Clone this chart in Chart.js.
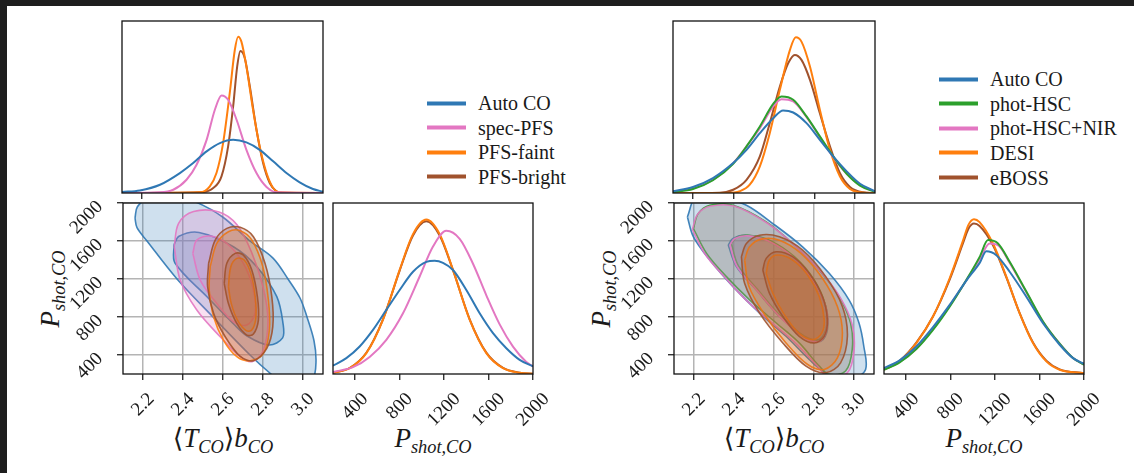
<!DOCTYPE html>
<html lang="en">
<head>
<meta charset="UTF-8" />
<title>Corner plots</title>
<script src="https://cdn.jsdelivr.net/npm/chart.js"></script>
<style>
  body { margin: 0; background: #1e1e1e; width: 1134px; height: 473px; overflow: hidden; position: relative; }
  .sheet { position: absolute; left: 7px; top: 6px; width: 1127px; height: 467px; background: #fff; }
  .panel { position: absolute; }
  .ttl { position: absolute; transform: translate(-50%, -50%); font: 27px "Liberation Serif", "DejaVu Serif", serif; color: #1a1a1a; white-space: nowrap; }
  .ttl.v { transform: translate(-50%, -50%) rotate(-90deg); }
  .ttl sub { font-size: 0.68em; vertical-align: baseline; position: relative; top: 0.32em; }
  .leg { position: absolute; display: flex; align-items: center; transform: translateY(-50%); font: 20px "Liberation Serif", serif; color: #1a1a1a; white-space: nowrap; }
  .sw { display: inline-block; width: 39px; height: 4px; margin-right: 12px; }
</style>
</head>
<body>
<div class="sheet"></div>

<div class="ttl" style="left:223px;top:438px">⟨<i>T</i><sub><i>CO</i></sub>⟩<i>b</i><sub><i>CO</i></sub></div>
<div class="ttl" style="left:433px;top:438px"><i>P</i><sub><i>shot,CO</i></sub></div>
<div class="ttl v" style="left:50px;top:289px"><i>P</i><sub><i>shot,CO</i></sub></div>
<div class="ttl" style="left:774px;top:438px">⟨<i>T</i><sub><i>CO</i></sub>⟩<i>b</i><sub><i>CO</i></sub></div>
<div class="ttl" style="left:984px;top:438px"><i>P</i><sub><i>shot,CO</i></sub></div>
<div class="ttl v" style="left:601px;top:289px"><i>P</i><sub><i>shot,CO</i></sub></div>

<script>
// axes
const tRange = [2.1, 3.1];
const pRange = [200, 2000];
const tTicks = [2.2, 2.4, 2.6, 2.8, 3.0];
const pTicks = [400, 800, 1200, 1600, 2000];

// series
const leftNames = ["Auto CO", "spec-PFS", "PFS-faint", "PFS-bright"];
const leftColors = ["#2f78b4", "#e377c2", "#ff7f0e", "#a0522d"];
const rightNames = ["Auto CO", "phot-HSC", "phot-HSC+NIR", "DESI", "eBOSS"];
const rightColors = ["#2f78b4", "#2ca02c", "#e377c2", "#ff7f0e", "#a0522d"];

// left figure, marginal of <T>b  (x, relative height)
const ltAuto = [[2.100,0.006],[2.189,0.015],[2.289,0.048],[2.388,0.116],[2.454,0.174],[2.521,0.242],[2.587,0.290],[2.653,0.309],[2.719,0.294],[2.785,0.251],[2.852,0.184],[2.918,0.116],[2.984,0.062],[3.050,0.023],[3.100,0.008]];
const ltSpec = [[2.100,0],[2.289,0.004],[2.355,0.019],[2.421,0.077],[2.471,0.164],[2.521,0.309],[2.562,0.484],[2.595,0.567],[2.628,0.542],[2.670,0.426],[2.719,0.251],[2.769,0.116],[2.819,0.035],[2.868,0.004],[3.100,0]];
const ltFaint = [[2.100,0],[2.487,0.004],[2.537,0.039],[2.570,0.116],[2.603,0.290],[2.636,0.580],[2.661,0.830],[2.678,0.909],[2.694,0.880],[2.719,0.735],[2.752,0.484],[2.785,0.271],[2.819,0.116],[2.852,0.029],[2.885,0.004],[3.100,0]];
const ltBright = [[2.100,0],[2.487,0.004],[2.554,0.029],[2.595,0.097],[2.628,0.271],[2.653,0.503],[2.673,0.735],[2.689,0.826],[2.711,0.784],[2.736,0.619],[2.769,0.368],[2.802,0.174],[2.835,0.058],[2.868,0.010],[2.901,0],[3.100,0]];

// left figure, marginal of P_shot
const lrAuto = [[200,0.049],[320,0.093],[440,0.161],[560,0.258],[680,0.375],[800,0.491],[920,0.598],[1040,0.656],[1115,0.662],[1190,0.650],[1280,0.608],[1400,0.491],[1520,0.355],[1640,0.239],[1760,0.151],[1880,0.083],[2000,0.045]];
const lrSpec = [[200,0.012],[380,0.040],[530,0.100],[680,0.200],[830,0.355],[980,0.570],[1100,0.745],[1220,0.837],[1340,0.790],[1460,0.645],[1580,0.460],[1700,0.290],[1820,0.160],[1940,0.070],[2000,0.045]];
const lrFaint = [[200,0.007],[350,0.034],[500,0.122],[650,0.318],[800,0.609],[920,0.818],[1040,0.903],[1160,0.818],[1280,0.609],[1430,0.318],[1580,0.122],[1730,0.034],[1880,0.007],[2000,0.002]];
const lrBright = [[200,0.007],[350,0.035],[500,0.124],[650,0.320],[800,0.605],[920,0.810],[1040,0.893],[1160,0.810],[1280,0.607],[1430,0.320],[1580,0.125],[1730,0.036],[1880,0.008],[2000,0.002]];

// left figure, contours (<T>b, P_shot): outer = 2 sigma, inner = 1 sigma
const lAutoOuter = [[2.160,1842],[2.172,1960],[2.225,2045],[2.350,2070],[2.470,2005],[2.600,1850],[2.735,1600],[2.850,1420],[2.925,1200],[2.985,1000],[3.020,800],[3.055,550],[3.065,330],[3.050,150],[2.985,60],[2.900,110],[2.840,200],[2.735,400],[2.550,800],[2.370,1200],[2.220,1600],[2.170,1740]];
const lAutoInner = [[2.355,1560],[2.380,1650],[2.480,1690],[2.652,1540],[2.769,1330],[2.869,1014],[2.900,733],[2.898,580],[2.830,505],[2.720,600],[2.650,733],[2.520,1013],[2.360,1368]];
const lSpecOuter = [[2.356,1540],[2.378,1786],[2.453,1910],[2.580,1905],[2.670,1770],[2.745,1470],[2.800,1119],[2.825,768],[2.802,450],[2.745,330],[2.686,382],[2.586,592],[2.469,873],[2.386,1189]];
const lSpecInner = [[2.449,1470],[2.469,1610],[2.536,1652],[2.619,1575],[2.702,1365],[2.752,1084],[2.760,838],[2.719,715],[2.652,750],[2.569,943],[2.486,1189]];
const lFaintOuter = [[2.536,1330],[2.569,1575],[2.627,1698],[2.686,1709],[2.744,1610],[2.799,1330],[2.827,979],[2.832,663],[2.802,417],[2.736,340],[2.669,382],[2.602,557],[2.553,803],[2.531,1084]];
const lFaintInner = [[2.627,1119],[2.639,1330],[2.669,1417],[2.706,1400],[2.739,1259],[2.761,1014],[2.764,786],[2.744,663],[2.716,656],[2.672,768],[2.641,943]];
const lBrightOuter = [[2.528,1365],[2.561,1610],[2.619,1733],[2.686,1744],[2.752,1645],[2.810,1365],[2.844,1014],[2.849,698],[2.819,470],[2.752,340],[2.686,385],[2.611,592],[2.553,838],[2.523,1119]];
const lBrightInner = [[2.606,1154],[2.619,1365],[2.661,1470],[2.702,1452],[2.744,1295],[2.772,1014],[2.777,768],[2.752,621],[2.719,610],[2.669,733],[2.627,943]];

// right figure, marginal of <T>b
const rtAuto = [[2.100,0.010],[2.199,0.035],[2.298,0.087],[2.398,0.174],[2.464,0.251],[2.530,0.348],[2.596,0.435],[2.645,0.480],[2.695,0.468],[2.761,0.406],[2.827,0.309],[2.893,0.213],[2.960,0.126],[3.026,0.054],[3.100,0.010]];
const rtHsc = [[2.100,0.006],[2.199,0.023],[2.298,0.074],[2.398,0.170],[2.464,0.271],[2.530,0.387],[2.596,0.518],[2.637,0.561],[2.695,0.542],[2.761,0.445],[2.827,0.329],[2.893,0.213],[2.960,0.112],[3.026,0.043],[3.100,0.006]];
const rtNir = [[2.100,0.008],[2.199,0.027],[2.298,0.077],[2.398,0.174],[2.464,0.271],[2.530,0.377],[2.596,0.503],[2.637,0.545],[2.695,0.532],[2.761,0.441],[2.827,0.325],[2.893,0.209],[2.960,0.112],[3.026,0.046],[3.100,0.008]];
const rtDesi = [[2.100,0],[2.364,0],[2.431,0.010],[2.480,0.048],[2.530,0.155],[2.579,0.348],[2.629,0.600],[2.679,0.832],[2.708,0.905],[2.736,0.880],[2.778,0.735],[2.827,0.484],[2.877,0.251],[2.926,0.097],[2.976,0.023],[3.026,0.004],[3.100,0]];
const rtEboss = [[2.100,0],[2.331,0.002],[2.398,0.019],[2.464,0.077],[2.530,0.213],[2.579,0.406],[2.629,0.619],[2.670,0.754],[2.703,0.803],[2.736,0.774],[2.778,0.658],[2.827,0.464],[2.877,0.271],[2.926,0.116],[2.976,0.035],[3.042,0.004],[3.100,0]];

// right figure, marginal of P_shot
const rrAuto = [[200,0.035],[341,0.080],[491,0.161],[641,0.274],[791,0.404],[941,0.546],[1061,0.650],[1121,0.718],[1211,0.695],[1331,0.598],[1481,0.452],[1631,0.297],[1781,0.171],[1901,0.093],[2000,0.060]];
const rrHsc = [[200,0.025],[341,0.068],[491,0.146],[641,0.258],[791,0.394],[941,0.550],[1061,0.685],[1136,0.783],[1226,0.763],[1331,0.656],[1481,0.482],[1631,0.307],[1781,0.177],[1901,0.093],[2000,0.054]];
const rrNir = [[200,0.027],[341,0.070],[491,0.148],[641,0.262],[791,0.398],[941,0.548],[1061,0.672],[1151,0.763],[1235,0.748],[1331,0.650],[1481,0.478],[1631,0.305],[1781,0.177],[1901,0.093],[2000,0.054]];
const rrDesi = [[200,0.025],[341,0.074],[491,0.181],[641,0.336],[791,0.560],[911,0.780],[960,0.872],[1010,0.905],[1060,0.888],[1181,0.763],[1301,0.569],[1421,0.355],[1541,0.181],[1661,0.074],[1781,0.025],[2000,0.004]];
const rrEboss = [[200,0.027],[341,0.077],[491,0.183],[641,0.336],[791,0.552],[911,0.765],[960,0.850],[1010,0.880],[1060,0.866],[1181,0.752],[1301,0.565],[1421,0.356],[1541,0.184],[1661,0.078],[1781,0.027],[2000,0.005]];

// right figure, contours
const rAutoOuter = [[2.167,1853],[2.213,2080],[2.329,2063],[2.462,1976],[2.594,1784],[2.743,1539],[2.876,1260],[2.975,981],[3.025,737],[3.049,492],[3.058,248],[2.991,126],[2.958,108],[2.859,203],[2.776,353],[2.660,597],[2.528,841],[2.395,1120],[2.279,1400],[2.197,1644]];
const rAutoInner = [[2.371,1557],[2.395,1627],[2.462,1661],[2.561,1609],[2.693,1435],[2.793,1190],[2.859,911],[2.867,667],[2.834,545],[2.760,580],[2.627,806],[2.511,1086],[2.412,1330]];
const rHscOuter = [[2.197,1731],[2.221,1888],[2.279,1976],[2.395,1976],[2.561,1801],[2.693,1574],[2.826,1295],[2.925,1016],[2.983,737],[2.991,457],[2.958,231],[2.876,196],[2.826,283],[2.726,527],[2.611,737],[2.478,981],[2.362,1225],[2.263,1470]];
const rHscInner = [[2.387,1574],[2.412,1637],[2.478,1661],[2.577,1609],[2.702,1435],[2.801,1190],[2.859,911],[2.862,684],[2.826,562],[2.752,597],[2.627,824],[2.519,1086],[2.420,1347]];
const rNirOuter = [[2.192,1721],[2.218,1881],[2.279,1965],[2.404,1965],[2.569,1784],[2.702,1557],[2.834,1278],[2.933,998],[2.991,719],[3.000,440],[2.967,213],[2.867,178],[2.817,283],[2.710,520],[2.594,730],[2.462,974],[2.354,1218],[2.255,1463]];
const rNirInner = [[2.379,1557],[2.404,1627],[2.470,1654],[2.569,1602],[2.697,1428],[2.796,1183],[2.859,904],[2.864,674],[2.829,545],[2.756,576],[2.627,806],[2.515,1079],[2.415,1330]];
const rDesiOuter = [[2.453,1400],[2.478,1539],[2.536,1620],[2.627,1609],[2.735,1470],[2.842,1208],[2.917,911],[2.942,632],[2.917,370],[2.851,248],[2.768,300],[2.660,527],[2.553,824],[2.475,1120]];
const rDesiInner = [[2.561,1260],[2.577,1400],[2.619,1452],[2.693,1400],[2.768,1243],[2.826,1016],[2.851,772],[2.839,632],[2.796,562],[2.726,625],[2.652,824],[2.594,1051]];
const rEbossOuter = [[2.437,1435],[2.462,1574],[2.528,1661],[2.627,1644],[2.743,1504],[2.859,1225],[2.942,911],[2.967,597],[2.933,318],[2.859,213],[2.760,283],[2.644,527],[2.528,841],[2.453,1155]];
const rEbossInner = [[2.544,1295],[2.561,1417],[2.611,1487],[2.693,1435],[2.776,1260],[2.842,1016],[2.867,772],[2.851,597],[2.801,527],[2.726,597],[2.644,806],[2.577,1051]];

function rgba(hex, a) {
  const n = parseInt(hex.slice(1), 16);
  return `rgba(${n >> 16},${(n >> 8) & 255},${n & 255},${a})`;
}

function curve(pts, color) {
  return {
    data: pts.map(([x, y]) => ({ x, y })),
    borderColor: color, borderWidth: 2, pointRadius: 0, fill: false,
    cubicInterpolationMode: "monotone",
  };
}

// lower order is drawn on top
function contours(pairs, colors) {
  const out = [];
  pairs.forEach(([outer, inner], k) => {
    [[outer, 100 - 2 * k], [inner, 99 - 2 * k]].forEach(([pts, order]) => {
      out.push({
        data: pts.concat([pts[0]]).map(([x, y]) => ({ x, y })),
        borderColor: rgba(colors[k], 0.9), borderWidth: 1.6,
        backgroundColor: rgba(colors[k], 0.23),
        fill: "shape", tension: 0.34, pointRadius: 0, order, clip: 0,
      });
    });
  });
  return out;
}

function axis(range, ticks, size, horizontal, grid) {
  return {
    type: "linear", min: range[0], max: range[1],
    afterBuildTicks: (s) => { s.ticks = ticks.map((v) => ({ value: v })); },
    afterFit: (s) => { if (horizontal) s.height = size; else s.width = size; },
    ticks: { display: false },
    border: { display: false },
    grid: {
      drawOnChartArea: grid, color: "#b4b4b4", lineWidth: 1.5,
      tickColor: "#111", tickLength: 6, tickWidth: 1.2,
    },
  };
}

const tickFont = "normal 400 19px 'Liberation Serif', 'DejaVu Serif', serif";

// frame plus 45 degree tick labels
function decor(xLabels, xDigits, yLabels) {
  return {
    id: "decor",
    afterDraw(chart) {
      const { ctx, chartArea: a } = chart;
      ctx.save();
      ctx.strokeStyle = "#111";
      ctx.lineWidth = 1.3;
      ctx.strokeRect(a.left, a.top, a.right - a.left, a.bottom - a.top);
      ctx.fillStyle = "#1a1a1a";
      ctx.font = tickFont;
      ctx.textBaseline = "middle";
      if (xLabels) {
        xLabels.forEach((v) => {
          const txt = v.toFixed(xDigits);
          const L = ctx.measureText(txt).width;
          const cx = chart.scales.x.getPixelForValue(v);
          const cy = a.bottom + 18 + ((L + 12) * 0.7071) / 2;
          ctx.save();
          ctx.translate(cx, cy);
          ctx.rotate(-Math.PI / 4);
          ctx.font = tickFont;
          ctx.textAlign = "center";
          ctx.fillText(txt, 0, 0);
          ctx.restore();
        });
      }
      if (yLabels) {
        yLabels.forEach((v) => {
          const py = chart.scales.y.getPixelForValue(v);
          ctx.save();
          ctx.translate(a.left - 23, py + 1);
          ctx.rotate(-Math.PI / 4);
          ctx.font = tickFont;
          ctx.textAlign = "right";
          ctx.fillText(String(v), 0, 0);
          ctx.restore();
        });
      }
      ctx.restore();
    },
  };
}

function panel(area, pads, datasets, xs, ys, plugin) {
  const div = document.createElement("div");
  div.className = "panel";
  div.style.left = area[0] - pads.l + "px";
  div.style.top = area[1] - pads.t + "px";
  div.style.width = area[2] - area[0] + pads.l + pads.r + "px";
  div.style.height = area[3] - area[1] + pads.t + pads.b + "px";
  const cv = document.createElement("canvas");
  div.appendChild(cv);
  document.body.appendChild(div);
  new Chart(cv, {
    type: "line",
    data: { datasets },
    options: {
      responsive: true, maintainAspectRatio: false, animation: false,
      layout: { padding: { top: pads.t, right: pads.r, bottom: 0, left: ys.display === false ? pads.l : 0 } },
      plugins: { legend: { display: false }, tooltip: { enabled: false } },
      elements: { line: { capBezierPoints: false } },
      scales: { x: xs, y: ys },
    },
    plugins: [plugin],
  });
}

const margY = { display: false, min: 0, max: 1 };

// left figure
panel([122, 21, 323, 193], { l: 10, t: 10, r: 10, b: 10 },
  [ltAuto, ltSpec, ltFaint, ltBright].map((p, i) => curve(p, leftColors[i])),
  axis(tRange, tTicks, 10, true, false), margY, decor(null));
panel([123, 203, 323, 374], { l: 75, t: 5, r: 5, b: 62 },
  contours([[lAutoOuter, lAutoInner], [lSpecOuter, lSpecInner], [lFaintOuter, lFaintInner], [lBrightOuter, lBrightInner]], leftColors),
  axis(tRange, tTicks, 62, true, true), axis(pRange, pTicks, 75, false, true), decor(tTicks, 1, pTicks));
panel([333, 203, 533, 374], { l: 5, t: 5, r: 26, b: 62 },
  [lrAuto, lrSpec, lrFaint, lrBright].map((p, i) => curve(p, leftColors[i])),
  axis(pRange, pTicks, 62, true, false), margY, decor(pTicks, 0, null));

// right figure
panel([673, 21, 875, 193], { l: 10, t: 10, r: 10, b: 10 },
  [rtAuto, rtHsc, rtNir, rtDesi, rtEboss].map((p, i) => curve(p, rightColors[i])),
  axis(tRange, tTicks, 10, true, false), margY, decor(null));
panel([674, 203, 874, 374], { l: 75, t: 5, r: 5, b: 62 },
  contours([[rAutoOuter, rAutoInner], [rHscOuter, rHscInner], [rNirOuter, rNirInner], [rDesiOuter, rDesiInner], [rEbossOuter, rEbossInner]], rightColors),
  axis(tRange, tTicks, 62, true, true), axis(pRange, pTicks, 75, false, true), decor(tTicks, 1, pTicks));
panel([884, 203, 1084, 374], { l: 5, t: 5, r: 26, b: 62 },
  [rrAuto, rrHsc, rrNir, rrDesi, rrEboss].map((p, i) => curve(p, rightColors[i])),
  axis(pRange, pTicks, 62, true, false), margY, decor(pTicks, 0, null));

// legends
function legend(names, colors, left, firstY, step) {
  names.forEach((n, i) => {
    const row = document.createElement("div");
    row.className = "leg";
    row.style.left = left + "px";
    row.style.top = firstY + i * step + "px";
    row.innerHTML = `<span class="sw" style="background:${colors[i]}"></span><span>${n}</span>`;
    document.body.appendChild(row);
  });
}
legend(leftNames, leftColors, 427, 103, 24.55);
legend(rightNames, rightColors, 939, 79, 24.65);
</script>
</body>
</html>
